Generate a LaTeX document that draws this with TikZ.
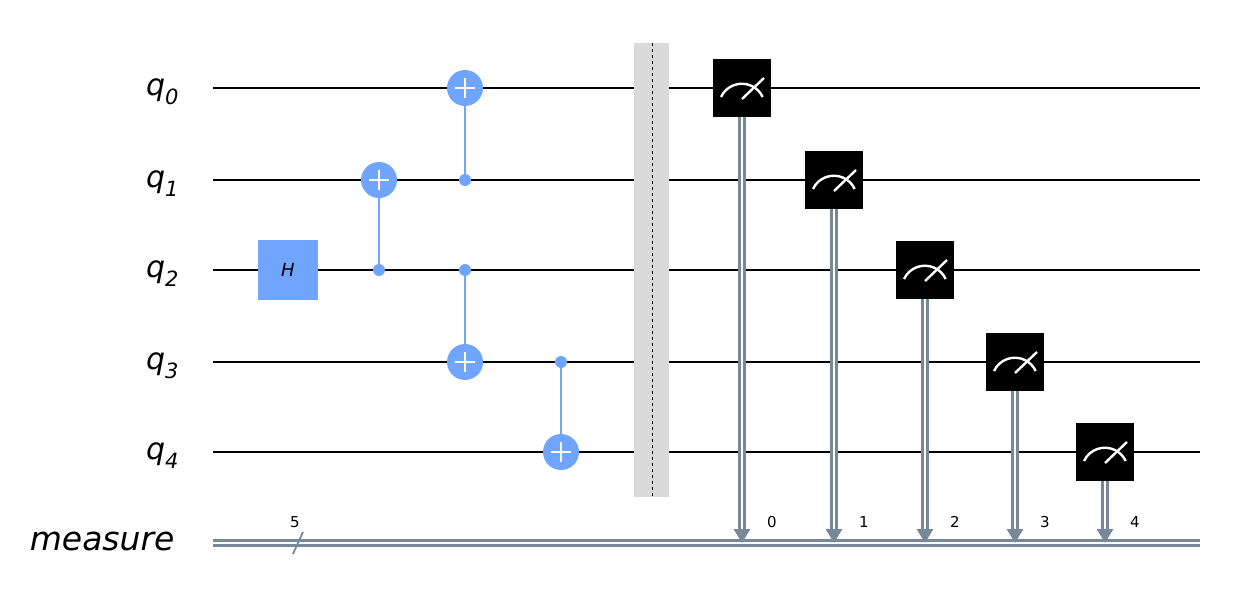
\documentclass[tikz,border=0pt]{standalone}
\usepackage{fontspec}
\setmainfont{DejaVu Sans}
\usetikzlibrary{arrows.meta}
\definecolor{qb}{HTML}{6FA4FF}
\definecolor{cw}{HTML}{778899}
\definecolor{bar}{HTML}{DADADA}
\begin{document}
\begin{tikzpicture}[x=1pt,y=1pt,
  wire/.style={line width=2.2pt,black},
  lab/.style={anchor=east,font=\fontsize{30}{32}\selectfont\itshape},
  tgt/.style={circle,fill=qb,minimum size=36pt,inner sep=0pt},
  ctl/.style={circle,fill=qb,minimum size=12pt,inner sep=0pt},
  link/.style={qb,line width=2.4pt},
  meas/.style={fill=black,minimum size=58pt,inner sep=0pt},
  cwire/.style={cw,line width=3pt,double distance=2.5pt}]
\useasboundingbox (0,0) rectangle (1236,-596);
\clip (0,0) rectangle (1236,-596);
% wires
\foreach \i/\y in {0/88,1/180,2/270,3/362,4/452}{
  \coordinate (w\i a) at (213,-\y); \coordinate (w\i b) at (1200,-\y);
  \draw[wire] (w\i a) -- (w\i b);
  \node[lab] (l\i) at (182,-\y-4) {q\raisebox{-0.3em}{\fontsize{21}{21}\selectfont\itshape\i}};
}
\coordinate (ca) at (213,-543); \coordinate (cb) at (1200,-543);
\draw[cwire] (ca) -- (cb);
\node[lab,font=\fontsize{33}{35}\selectfont\itshape] (lm) at (178,-541) {measure};
\coordinate (s1) at (293,-554); \coordinate (s2) at (303,-532);
\draw[cw,line width=1.8pt] (s1) -- (s2);
\node[font=\fontsize{15}{15}\selectfont] (n5) at (295,-522) {5};
% barrier
\fill[bar] (634,-43) rectangle (669,-497);
\coordinate (ba) at (652,-43); \coordinate (bb) at (652,-497);
\draw[dashed,line width=1pt] (ba) -- (bb);
% H
\node[fill=qb,minimum size=60pt,inner sep=0pt,font=\fontsize{18}{18}\selectfont\itshape] (h) at (288,-270) {H};
% CNOTs
\newcommand{\cnot}[4]{% name, x, ctl y, tgt y
  \node[ctl] (#1c) at (#2,-#3) {};
  \node[tgt] (#1t) at (#2,-#4) {};
  \draw[link] (#1c) -- (#1t);
  \draw[white,line width=2.6pt] (#1t.north)++(0,-8) -- ++(0,-20);
  \draw[white,line width=2.6pt] (#1t.west)++(8,0) -- ++(20,0);
}
\cnot{a}{379}{270}{180}
\cnot{b}{465}{180}{88}
\cnot{c}{465}{270}{362}
\cnot{d}{561}{362}{452}
% measurements
\foreach \i/\x/\y in {0/742/88,1/834/180,2/925/270,3/1015/362,4/1105/452}{
  \coordinate (t\i) at (\x,-543);
  \draw[cwire,-{Triangle[length=14pt,width=16pt,fill=cw]}] (\x,-\y) -- (t\i);
  \node[meas] (m\i) at (\x,-\y) {};
  \draw[white,line width=2.4pt] (\x-21,-\y-9) arc[start angle=155,end angle=25,radius=23];
  \draw[white,line width=2.4pt] (\x,-\y-11) -- (\x+22,-\y+10);
  \node[font=\fontsize{15}{15}\selectfont] (k\i) at (\x+30,-522) {\i};
}
\end{tikzpicture}
\end{document}
